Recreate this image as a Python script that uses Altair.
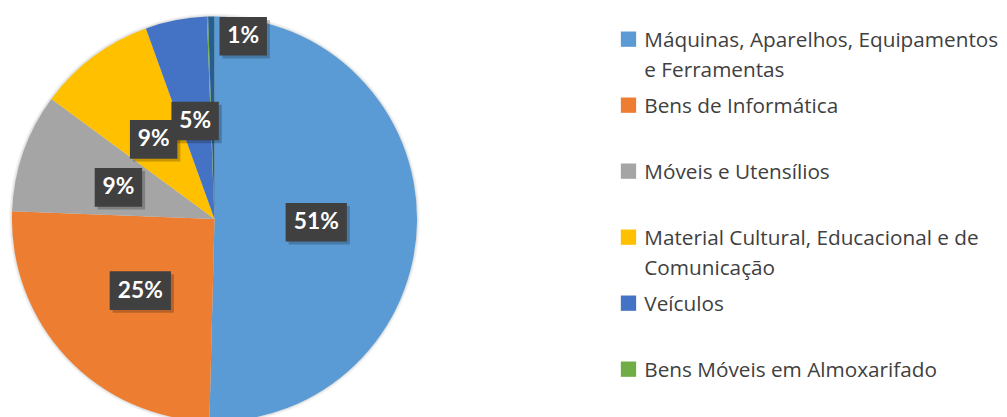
import altair as alt
import pandas as pd

categories = [
    "Máquinas, Aparelhos, Equipamentos e Ferramentas",
    "Bens de Informática",
    "Móveis e Utensílios",
    "Material Cultural, Educacional e de Comunicação",
    "Veículos",
    "Bens Móveis em Almoxarifado",
    "Outros",
]
shares = [50.4, 25.2, 9.5, 9.4, 4.9, 0.1, 0.5]
pct_labels = ["51%", "25%", "9%", "9%", "5%", "", "1%"]
colors = ["#5B9BD5", "#ED7D31", "#A5A5A5", "#FFC000", "#4472C4", "#70AD47", "#255E91"]
legend_labels = [
    "Máquinas, Aparelhos, Equipamentos\ne Ferramentas",
    "Bens de Informática",
    "Móveis e Utensílios",
    "Material Cultural, Educacional e de\nComunicação",
    "Veículos",
    "Bens Móveis em Almoxarifado",
]

df = pd.DataFrame({"cat": categories, "share": shares, "label": pct_labels,
                   "order": list(range(len(categories)))})
leg_df = pd.DataFrame({"cat": categories[:6], "text": legend_labels})

R = 205
color_scale = alt.Scale(domain=categories, range=colors)
base = alt.Chart(df)

theta = alt.Theta("share:Q", stack=True)
order = alt.Order("order:Q")

shadows = [
    base.mark_arc(outerRadius=R + k, strokeWidth=0, opacity=op).encode(
        theta=theta, order=order, color=alt.value("#000000"))
    for k, op in [(3, 0.03), (2, 0.04), (1, 0.05)]
]

pie = base.mark_arc(outerRadius=R, strokeWidth=0).encode(
    theta=theta,
    color=alt.Color("cat:N", scale=color_scale, legend=None),
    order=order,
)

pos = base.transform_joinaggregate(total="sum(share)").transform_window(
    cum="sum(share)", sort=[alt.SortField("order")], frame=[None, 0]
).transform_filter("datum.label != ''").transform_calculate(
    ang="(datum.cum - datum.share / 2) / datum.total * 2 * PI",
    outer="datum.share < 1 ? 1 : 0",
).transform_calculate(
    rr="datum.outer ? 187 : 103",
).transform_calculate(
    px="datum.rr * sin(datum.ang) + datum.outer * 32",
    py="datum.rr * cos(datum.ang) - 2",
    wide="length(datum.label) >= 3 ? 1 : 0",
)

xenc = alt.X("px:Q", scale=alt.Scale(domain=[-R, R], nice=False, zero=False), axis=None)
yenc = alt.Y("py:Q", scale=alt.Scale(domain=[-R, R], nice=False, zero=False), axis=None)

def boxes(w, cond):
    sh = pos.transform_filter(cond).mark_rect(
        width=w, height=39, color="#000000", opacity=0.22, xOffset=3, yOffset=3
    ).encode(x=xenc, y=yenc)
    bx = pos.transform_filter(cond).mark_rect(
        width=w, height=39, color="#404040"
    ).encode(x=xenc, y=yenc)
    return [sh, bx]

txt = pos.mark_text(font="Lato", fontWeight="bold", fontSize=23, color="white",
                    baseline="middle", align="center").encode(
    x=xenc, y=yenc, text="label:N")

pie_layer = alt.layer(*shadows, pie, *boxes(62, "datum.wide == 1"),
                      *boxes(48, "datum.wide == 0"), txt).properties(width=2 * R, height=2 * R)

leg_base = alt.Chart(leg_df)
yleg = alt.Y("cat:N", sort=categories[:6],
             scale=alt.Scale(type="point", range=[23, 357], padding=0), axis=None)
squares = leg_base.mark_square(size=240, filled=True, opacity=1).encode(
    x=alt.value(13), y=yleg,
    color=alt.Color("cat:N", scale=color_scale, legend=None))
ltext = leg_base.mark_text(align="left", baseline="alphabetic", dy=8, lineHeight=30,
                           fontSize=21, font="Open Sans", color="#404040", lineBreak="\n").encode(
    x=alt.value(29), y=yleg, text="text:N")
legend_layer = alt.layer(squares, ltext).properties(width=370, height=2 * R)

chart = alt.hconcat(pie_layer, legend_layer, spacing=198).properties(
    padding={"left": 1, "top": 3, "right": 0, "bottom": 0},
    background="white",
).configure_view(stroke=None)

chart.save("out.html", embed_options={"renderer": "svg", "actions": False})
